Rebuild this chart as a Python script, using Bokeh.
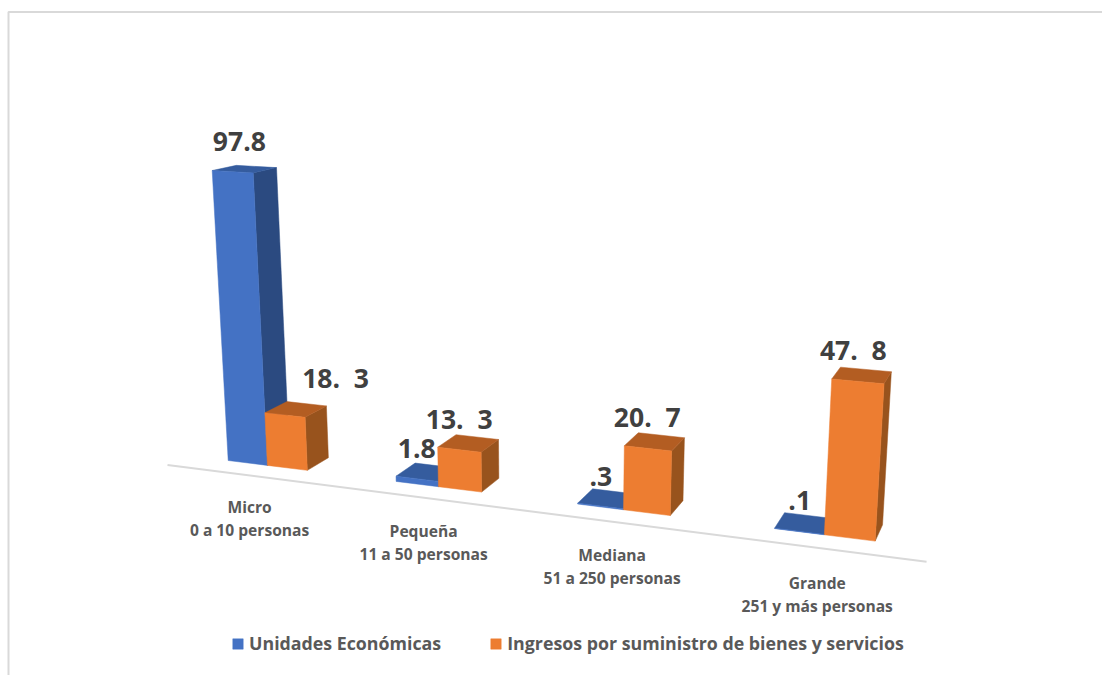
from bokeh.plotting import figure
from bokeh.models import Range1d, Legend, LegendItem
from bokeh.core.properties import value
from bokeh.embed import file_html
from bokeh.resources import INLINE

# Data
categories = ["Micro", "Pequeña", "Mediana", "Grande"]
ranges = ["0 a 10 personas", "11 a 50 personas", "51 a 250 personas", "251 y más personas"]
unidades = [97.8, 1.8, 0.3, 0.1]
ingresos = [18.3, 13.3, 20.7, 47.8]
unidades_labels = ["97.8", "1.8", ".3", ".1"]
ingresos_labels = ["18.\u00a0\u00a03", "13.\u00a0\u00a03", "20.\u00a0\u00a07", "47.\u00a0\u00a08"]
series_names = ["Unidades Económicas", "Ingresos por suministro de bienes y servicios"]

# Perspective camera: vanishing points of the three bar directions and the origin
VX, VY, VZ = (-4090.0, -78.0), (1130.0, -26.0), (550.0, 6300.0)
ORIGIN = (227.7, 460.0)
KX, KY, KZ = -0.009, 0.02573, -0.0004837

GAP = 2.16      # gap between clusters, in bar widths
PITCH = 2 + GAP
AXIS_DEPTH = -0.78


def project(x, y, z):
    w = 1 + KX * x + KY * y + KZ * z
    px = ORIGIN[0] + KX * x * VX[0] + KY * y * VY[0] + KZ * z * VZ[0]
    py = ORIGIN[1] + KX * x * VX[1] + KY * y * VY[1] + KZ * z * VZ[1]
    return px / w, py / w


def face(corners):
    pts = [project(*c) for c in corners]
    return [p[0] for p in pts], [p[1] for p in pts]


def bar_faces(x0, v):
    x1 = x0 + 1
    front = face([(x0, 0, 0), (x1, 0, 0), (x1, 0, v), (x0, 0, v)])
    side = face([(x1, 0, 0), (x1, 1, 0), (x1, 1, v), (x1, 0, v)])
    top = face([(x0, 0, v), (x1, 0, v), (x1, 1, v), (x0, 1, v)])
    return front, side, top


p = figure(width=1102, height=675, output_backend="svg", toolbar_location=None,
           x_range=Range1d(0, 1102), y_range=Range1d(675, 0), min_border=0,
           outline_line_color=None, background_fill_color="white")
p.axis.visible = False
p.grid.visible = False

# Frame of the chart area (top and left only)
p.line([8, 8, 1102], [675, 11.5, 11.5], line_color="#d9d9d9", line_width=2)

# Category axis along the floor
ax0 = project(-GAP / 2, AXIS_DEPTH, 0)
ax1 = project(3 * PITCH + 2 + GAP / 2, AXIS_DEPTH, 0)
p.line([ax0[0], ax1[0]], [ax0[1], ax1[1]], line_color="#d9d9d9", line_width=2)

# Bars: side and top faces first, front face over them
styles = [("#4472C4", "#2B4A80", "#355C9E"), ("#ED7D31", "#98531D", "#B35D22")]
front_renderers = []
for s, vals in enumerate([unidades, ingresos]):
    fronts, sides, tops = [], [], []
    for i, v in enumerate(vals):
        f, sd, t = bar_faces(i * PITCH + s, v)
        fronts.append(f)
        sides.append(sd)
        tops.append(t)
    col_front, col_side, col_top = styles[s]
    p.patches([a[0] for a in sides], [a[1] for a in sides], fill_color=col_side,
              line_color=col_side, line_width=0.5)
    p.patches([a[0] for a in tops], [a[1] for a in tops], fill_color=col_top,
              line_color=col_top, line_width=0.5)
    r = p.patches([a[0] for a in fronts], [a[1] for a in fronts], fill_color=col_front,
                  line_color=col_front, line_width=0.5)
    front_renderers.append(r)

# Value labels, offset from the back-centre of each bar top
label_offsets = [[(-17, -25), (-19, -17), (-14, -15), (-9, -15)],
                 [(29, -26), (-18, -18), (-14, -18), (-12.5, -19)]]
lx, ly, lt = [], [], []
for s, (vals, labels) in enumerate([(unidades, unidades_labels), (ingresos, ingresos_labels)]):
    for i, (v, t) in enumerate(zip(vals, labels)):
        ax, ay = project(i * PITCH + s + 0.5, 1, v)
        dx, dy = label_offsets[s][i]
        lx.append(ax + dx)
        ly.append(ay + dy)
        lt.append(t)
p.text(lx, ly, text=lt, text_font=value("Open Sans"), text_font_style="bold",
       text_font_size="26.5px", text_color="#404040", text_align="center",
       text_baseline="middle")

# Category labels: two lines under the floor axis
tick_offsets = [31, 33, 33, 35]
tx, ty1, ty2 = [], [], []
for i, off in enumerate(tick_offsets):
    ax, ay = project(i * PITCH + 1, AXIS_DEPTH, 0)
    tx.append(ax)
    ty1.append(ay + off)
    ty2.append(ay + off + 23)
for ys, texts in ((ty1, categories), (ty2, ranges)):
    p.text(tx, ys, text=texts, text_font=value("Open Sans"), text_font_style="bold",
           text_font_size="15.6px", text_color="#595959", text_align="center",
           text_baseline="middle")

legend = Legend(items=[LegendItem(label=n, renderers=[r]) for n, r in zip(series_names, front_renderers)],
                orientation="horizontal", location=(231, 20), glyph_width=13, glyph_height=13,
                label_standoff=5, spacing=48, padding=0, margin=0,
                border_line_color=None, background_fill_alpha=0,
                label_text_font="Open Sans", label_text_font_style="bold",
                label_text_font_size="17.8px", label_text_color="#595959")
p.add_layout(legend, "center")

open("out.html", "w").write(file_html(p, INLINE))
